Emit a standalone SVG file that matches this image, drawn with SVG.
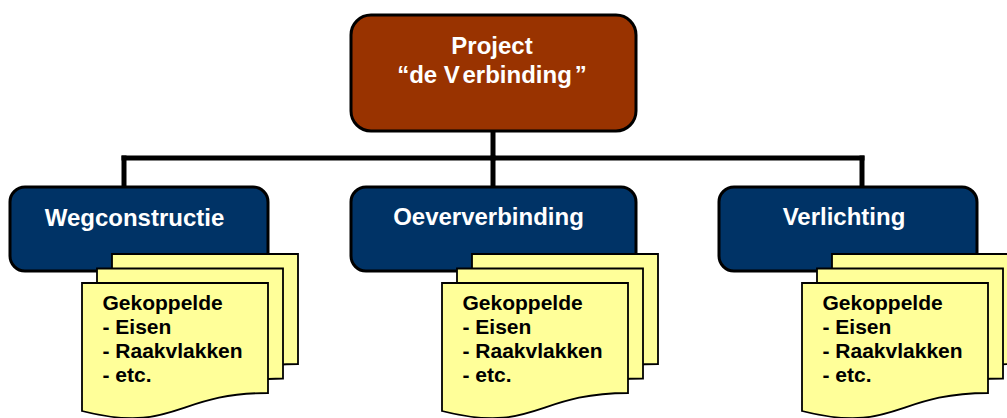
<svg xmlns="http://www.w3.org/2000/svg" xmlns:xlink="http://www.w3.org/1999/xlink" width="1007" height="418" viewBox="0 0 1007 418">
  <style>
    .lbl { font-family: "Liberation Sans", Arial, sans-serif; font-weight: bold; }
    .head { fill: #ffffff; font-size: 24px; text-anchor: middle; }
    .doc { fill: #000000; font-size: 21px; }
    .root { fill: #993300; stroke: #000000; stroke-width: 3; }
    .unit { fill: #003366; stroke: #000000; stroke-width: 3; }
    .page { fill: #ffff99; stroke: #000000; stroke-width: 1.8; stroke-linejoin: miter; }
    .wire { fill: none; stroke: #000000; stroke-width: 5; stroke-linecap: square; }
  </style>
  <defs>
    <!-- sheet with a wavy lower edge -->
    <path id="sheet" d="M0,0 H186 V110 C93,110 93,151.6 0,128 Z"/>
    <!-- three stacked sheets, front one last -->
    <g id="stack">
      <use xlink:href="#sheet" href="#sheet" class="page" transform="translate(30,-29)"/>
      <use xlink:href="#sheet" href="#sheet" class="page" transform="translate(15,-14.5)"/>
      <use xlink:href="#sheet" href="#sheet" class="page"/>
    </g>
  </defs>

  <rect width="1007" height="418" fill="#ffffff"/>

  <g id="connectors">
    <path class="wire" d="M493,131 V158"/>
    <path class="wire" d="M124,158 H862"/>
    <path class="wire" d="M124,158 V187"/>
    <path class="wire" d="M493,158 V187"/>
    <path class="wire" d="M862,158 V187"/>
  </g>

  <g id="project">
    <rect class="root" x="351" y="15" width="285" height="116" rx="20" ry="20"/>
    <text class="lbl head" x="492" y="54">Project</text>
    <text class="lbl head" x="492" y="83">“de V<tspan dx="4">erbinding</tspan><tspan dx="3">”</tspan></text>
  </g>

  <g id="wegconstructie">
    <rect class="unit" x="10" y="187" width="258" height="84" rx="15" ry="15"/>
    <text class="lbl head" x="134.5" y="226">Wegconstructie</text>
  </g>
  <g id="wegconstructie-docs">
    <use xlink:href="#stack" href="#stack" transform="translate(82,283)"/>
    <text class="lbl doc" x="102.5" y="310">Gekoppelde</text>
    <text class="lbl doc" x="102.5" y="334">- Eisen</text>
    <text class="lbl doc" x="102.5" y="358">- Raakvlakken</text>
    <text class="lbl doc" x="102.5" y="382">- etc.</text>
  </g>

  <g id="oeververbinding">
    <rect class="unit" x="351" y="187" width="285" height="84" rx="15" ry="15"/>
    <text class="lbl head" x="488.5" y="225">Oeververbinding</text>
  </g>
  <g id="oeververbinding-docs">
    <use xlink:href="#stack" href="#stack" transform="translate(442,283)"/>
    <text class="lbl doc" x="462.5" y="310">Gekoppelde</text>
    <text class="lbl doc" x="462.5" y="334">- Eisen</text>
    <text class="lbl doc" x="462.5" y="358">- Raakvlakken</text>
    <text class="lbl doc" x="462.5" y="382">- etc.</text>
  </g>

  <g id="verlichting">
    <rect class="unit" x="719" y="187" width="258" height="84" rx="15" ry="15"/>
    <text class="lbl head" x="844" y="225">Verlichting</text>
  </g>
  <g id="verlichting-docs">
    <use xlink:href="#stack" href="#stack" transform="translate(802,283)"/>
    <text class="lbl doc" x="822.5" y="310">Gekoppelde</text>
    <text class="lbl doc" x="822.5" y="334">- Eisen</text>
    <text class="lbl doc" x="822.5" y="358">- Raakvlakken</text>
    <text class="lbl doc" x="822.5" y="382">- etc.</text>
  </g>
</svg>
